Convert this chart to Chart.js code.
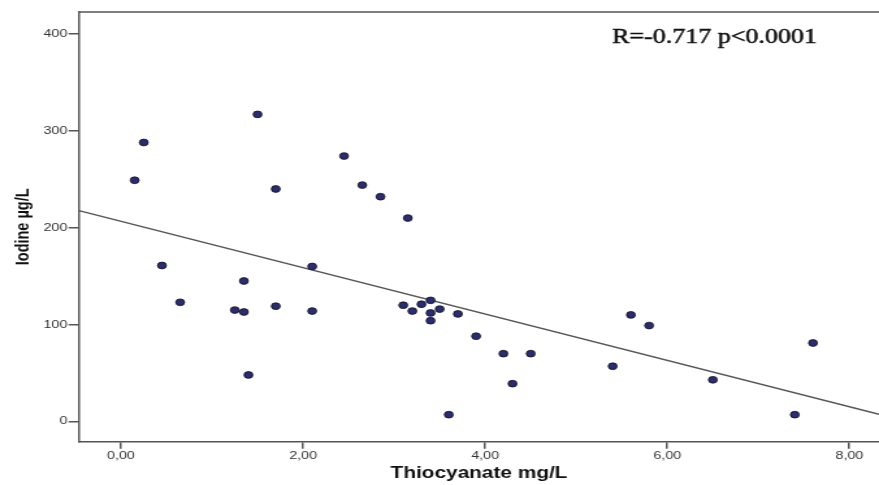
<!DOCTYPE html>
<html>
<head>
<meta charset="utf-8">
<script src="https://cdn.jsdelivr.net/npm/chart.js@4/dist/chart.umd.min.js"></script>
<style>
  html, body { margin: 0; padding: 0; background: #fff; overflow: hidden; }
  /* the source figure is stretched horizontally, so draw narrow and stretch */
  #wrap { width: 676px; height: 485px; transform: scaleX(1.3003); transform-origin: 0 0; }
</style>
</head>
<body>
<div id="wrap"><canvas id="scatter" width="676" height="485"></canvas></div>
<script>
// Thiocyanate (mg/L) vs Iodine (µg/L)
const thiocyanate = [0.15, 0.25, 0.45, 0.65, 1.25, 1.35, 1.35, 1.40, 1.50, 1.70, 1.70, 2.10,
                     2.10, 2.45, 2.65, 2.85, 3.10, 3.15, 3.20, 3.30, 3.40, 3.40, 3.40, 3.50,
                     3.60, 3.70, 3.90, 4.20, 4.30, 4.50, 5.40, 5.60, 5.80, 6.50, 7.40, 7.60];
const iodine = [249, 288, 161, 123, 115, 145, 113, 48, 317, 240, 119, 160,
                114, 274, 244, 232, 120, 210, 114, 121, 125, 112, 104, 116,
                7, 111, 88, 70, 39, 70, 57, 110, 99, 43, 7, 81];
const xTicks = [0, 2, 4, 6, 8];
const yTicks = [0, 100, 200, 300, 400];
const xRange = [-0.461, 8.325];
const yRange = [-20.9, 422.7];
// fit line as drawn
const fitIntercept = 206.6;
const fitSlope = -23.92;
const annotation = 'R=-0.717 p<0.0001';

const points = thiocyanate.map((x, i) => ({ x: x, y: iodine[i] }));
const fitLine = xRange.map(x => ({ x: x, y: fitIntercept + fitSlope * x }));

const axisColor = '#555';

const frame = {
    id: 'frame',
    afterDraw(chart) {
        const { ctx, chartArea } = chart;
        ctx.save();
        ctx.strokeStyle = axisColor;
        ctx.lineWidth = 1.5;
        ctx.beginPath();
        ctx.moveTo(chartArea.left, chartArea.top);
        ctx.lineTo(chartArea.right, chartArea.top);
        ctx.stroke();
        // correlation note, slightly heavy like the source
        ctx.fillStyle = '#111';
        ctx.strokeStyle = '#111';
        ctx.lineWidth = 0.5;
        ctx.font = '20px "Liberation Serif", "Times New Roman", serif';
        ctx.textBaseline = 'alphabetic';
        ctx.fillText(annotation, 470.7, 43);
        ctx.strokeText(annotation, 470.7, 43);
        ctx.restore();
    }
};

new Chart(document.getElementById('scatter'), {
    type: 'scatter',
    data: {
        datasets: [{
            type: 'line',
            data: fitLine,
            borderColor: '#555',
            borderWidth: 1.5,
            pointRadius: 0,
            fill: false,
            order: 2
        }, {
            data: points,
            backgroundColor: '#2a2c75',
            borderColor: '#111',
            borderWidth: 0.8,
            pointRadius: 3.4,
            order: 1
        }]
    },
    options: {
        responsive: false,
        animation: false,
        devicePixelRatio: 1,
        layout: { autoPadding: false, padding: { left: 0, top: 12, right: 0, bottom: 0 } },
        plugins: {
            legend: { display: false },
            tooltip: { enabled: false }
        },
        scales: {
            x: {
                type: 'linear',
                min: xRange[0],
                max: xRange[1],
                afterBuildTicks: axis => { axis.ticks = xTicks.map(v => ({ value: v })); },
                afterFit: axis => {
                    axis.height = 43.3;
                    axis.paddingLeft = 0;
                    axis.paddingRight = 0;
                },
                grid: { drawOnChartArea: false, color: axisColor, tickLength: 7, lineWidth: 1.5 },
                border: { color: axisColor, width: 1.5 },
                ticks: {
                    padding: 1,
                    maxRotation: 0,
                    color: '#333',
                    font: { family: '"Liberation Sans", Arial, sans-serif', size: 11 },
                    callback: v => v.toFixed(2).replace('.', ',')
                },
                title: {
                    display: true,
                    text: 'Thiocyanate mg/L',
                    color: '#111',
                    padding: { top: 0, bottom: 2 },
                    font: { family: '"Liberation Sans", Arial, sans-serif', size: 16, weight: 'bold' }
                }
            },
            y: {
                min: yRange[0],
                max: yRange[1],
                afterBuildTicks: axis => { axis.ticks = yTicks.map(v => ({ value: v })); },
                afterFit: axis => {
                    axis.width = 60.75;
                    axis.paddingTop = 0;
                    axis.paddingBottom = 0;
                },
                grid: { drawOnChartArea: false, color: axisColor, tickLength: 8, lineWidth: 1.5 },
                border: { color: axisColor, width: 1.5 },
                ticks: {
                    padding: 1,
                    color: '#333',
                    font: { family: '"Liberation Sans", Arial, sans-serif', size: 11 }
                },
                title: {
                    display: true,
                    text: 'Iodine µg/L',
                    color: '#111',
                    padding: { top: 9, bottom: 0 },
                    font: { family: '"Liberation Sans", Arial, sans-serif', size: 14.5, weight: 'bold' }
                }
            }
        }
    },
    plugins: [frame]
});
</script>
</body>
</html>
